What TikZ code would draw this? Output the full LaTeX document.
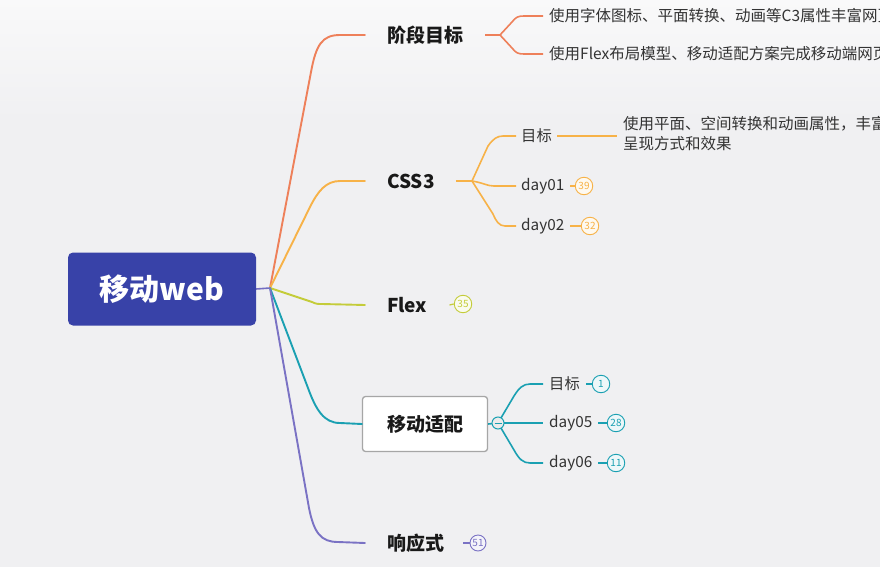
\documentclass[tikz,border=0pt]{standalone}
\usepackage{fontspec}
\setmainfont{Noto Sans CJK SC}
\definecolor{bgc}{RGB}{240,240,242}
\definecolor{cred}{RGB}{238,128,90}
\definecolor{corg}{RGB}{247,178,72}
\definecolor{clim}{RGB}{196,204,58}
\definecolor{ctea}{RGB}{26,160,178}
\definecolor{cpur}{RGB}{122,114,196}
\definecolor{croot}{RGB}{56,66,168}
\definecolor{ctxt}{RGB}{51,51,51}
\tikzset{
  rootbox/.style={fill=croot, rounded corners=5pt, minimum width=188pt, minimum height=73pt, text=white, font=\fontsize{30}{30}\selectfont\bfseries, inner sep=0pt},
  mainlbl/.style={anchor=west, inner sep=0pt, font=\fontsize{19}{19}\selectfont\bfseries, text=black!90},
  sublbl/.style={anchor=west, inner sep=0pt, font=\fontsize{15.3}{15.3}\selectfont, text=ctxt},
  leaflbl/.style={anchor=west, inner sep=0pt, font=\fontsize{15.5}{20}\selectfont, text=ctxt, align=left},
  br/.style={draw=#1, line width=1.9pt, line cap=round},
  sbr/.style={draw=#1, line width=1.6pt},
  badge/.style={circle, draw=#1, fill=#1!8, line width=0.9pt, minimum size=17.5pt, inner sep=0pt, text=#1, font=\fontsize{10}{10}\selectfont},
  dashln/.style={draw=#1, line width=1.2pt},
}
\begin{document}
\begin{tikzpicture}[x=1pt,y=-1pt]
\useasboundingbox (0,0) rectangle (880,567);
\clip (0,0) rectangle (880,567);
\shade[top color=bgc!40!white, bottom color=bgc] (0,0) rectangle (880,120);
\fill[bgc] (0,120) rectangle (880,567);

% root
\node[rootbox] (root) at (162,289) {移动web};
\coordinate (j) at (270,288);
\draw[draw=cpur!90!croot, line width=1.6pt] (root.east) -- (j);

% main labels
\node[mainlbl] (goal) at (387,35) {阶段目标};
\node[mainlbl] (css) at (387,181) {CSS3};
\node[mainlbl] (flex) at (387,305) {Flex};
\node[draw=black!35, fill=white, line width=1.3pt, rounded corners=3pt, minimum width=125pt, minimum height=55pt, inner sep=0pt, font=\fontsize{19}{19}\selectfont\bfseries, text=black!90] (adapt) at (425,424) {移动适配};
\node[mainlbl] (resp) at (387,543) {响应式};

% main connectors
\draw[br=cred] (j) -- (311,72) .. controls (316,45) and (322,35) .. (340,35) -- ([xshift=-22pt]goal.west);
\draw[br=corg] (j) -- (310,207) .. controls (318,191) and (326,181) .. (340,181) -- ([xshift=-22pt]css.west);
\draw[br=clim] (j) -- (312,302) .. controls (316,304) and (318,304) .. (322,304) -- ([xshift=-22pt]flex.west);
\draw[br=ctea] (j) -- (308,388) .. controls (316,410) and (324,423) .. (340,423) -- (adapt.west);
\draw[br=cpur] (j) -- (309,508) .. controls (314,533) and (321,542) .. (338,542) -- ([xshift=-22pt]resp.west);

% goal children
\coordinate (gj) at (500,35);
\node[leaflbl] (g1) at (549,16) {使用字体图标、平面转换、动画等C3属性丰富网页};
\node[leaflbl] (g2) at (549,54) {使用Flex布局模型、移动适配方案完成移动端网页};
\draw[sbr=cred] ([xshift=22pt]goal.east) -- (gj);
\draw[sbr=cred] (gj) -- (512,22) .. controls (516,17) and (518,16) .. (524,16) -- ([xshift=-6pt]g1.west);
\draw[sbr=cred] (gj) -- (512,48) .. controls (516,53) and (518,54) .. (524,54) -- ([xshift=-6pt]g2.west);

% css children
\coordinate (cj) at (472,181);
\node[sublbl] (cgoal) at (521,136) {目标};
\node[sublbl] (d1) at (521,186) {day01};
\node[sublbl] (d2) at (521,226) {day02};
\draw[sbr=corg] ([xshift=21pt]css.east) -- (cj);
\draw[sbr=corg] (cj) -- (488,146) .. controls (493,139) and (497,136) .. (503,136) -- ([xshift=-5pt]cgoal.west);
\draw[sbr=corg] (cj) .. controls (484,183) and (487,186) .. (494,186) -- ([xshift=-5pt]d1.west);
\draw[sbr=corg] (cj) -- (493,214) .. controls (496,221) and (499,226) .. (505,226) -- ([xshift=-5pt]d2.west);
\node[leaflbl, anchor=north west] (cleaf) at (623,116) {使用平面、空间转换和动画属性，丰富\\呈现方式和效果};
\draw[sbr=corg] ([xshift=5pt]cgoal.east) -- (617,136);
\node[badge=corg] (b39) at (584,186) {39};
\node[badge=corg] (b32) at (590,226) {32};
\draw[dashln=corg] ([xshift=6pt]d1.east) -- (b39.west);
\draw[dashln=corg] ([xshift=6pt]d2.east) -- (b32.west);

% flex badge
\node[badge=clim] (b35) at (463,304) {35};
\draw[dashln=clim] ([xshift=22pt]flex.east) -- (b35.west);

% adapt children
\coordinate (ac) at (498,423);
\node[sublbl] (agoal) at (549,384) {目标};
\node[sublbl] (d5) at (549,423) {day05};
\node[sublbl] (d6) at (549,463) {day06};
\draw[sbr=ctea] (adapt.east) -- (ac);
\draw[sbr=ctea] (ac) -- (514,396) .. controls (519,388) and (523,384) .. (530,384) -- ([xshift=-6pt]agoal.west);
\draw[sbr=ctea] (ac) -- ([xshift=-6pt]d5.west);
\draw[sbr=ctea] (ac) -- (514,450) .. controls (519,459) and (523,463) .. (530,463) -- ([xshift=-6pt]d6.west);
\node[circle, draw=ctea, fill=white!92!black, line width=1pt, minimum size=12pt, inner sep=0pt] (coll) at (ac) {};
\draw[draw=ctea, line width=1pt] ([xshift=-3.5pt]coll.center) -- ([xshift=3.5pt]coll.center);
\node[badge=ctea] (b1) at (601,384) {1};
\node[badge=ctea] (b28) at (616,423) {28};
\node[badge=ctea] (b11) at (616,463) {11};
\draw[dashln=ctea] ([xshift=6pt]agoal.east) -- (b1.west);
\draw[dashln=ctea] ([xshift=6pt]d5.east) -- (b28.west);
\draw[dashln=ctea] ([xshift=6pt]d6.east) -- (b11.west);

% resp badge
\node[badge=cpur, minimum size=16pt] (b51) at (478,543) {51};
\draw[dashln=cpur] ([xshift=19pt]resp.east) -- (b51.west);
\end{tikzpicture}
\end{document}
